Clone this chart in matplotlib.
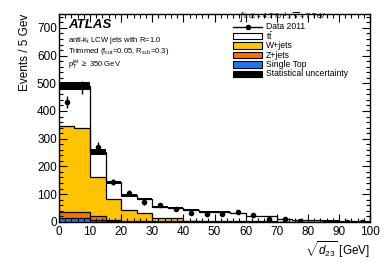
import numpy as np
import matplotlib
matplotlib.use("Agg")
import matplotlib.pyplot as plt
from matplotlib.patches import Rectangle
from matplotlib.lines import Line2D
from matplotlib.ticker import MultipleLocator

plt.rcParams['font.family'] = ['Liberation Sans', 'DejaVu Sans']
plt.rcParams['mathtext.fontset'] = 'custom'
plt.rcParams['mathtext.rm'] = 'Liberation Sans'
plt.rcParams['mathtext.it'] = 'Liberation Sans:italic'
plt.rcParams['mathtext.bf'] = 'Liberation Sans:bold'

# ---- data ----
bin_edges = np.arange(0, 105, 5)
single_top = [12, 15, 8, 2, 1, 1, 0.5, 0.5, 0.5, 0.3, 0.3, 0.3, 0.2, 0.2, 0.1, 0.1, 0.1, 0.1, 0.1, 0.1]
z_jets = [23, 21, 12, 6, 3, 2, 1.5, 1, 1, 0.5, 0.5, 0.5, 0.3, 0.3, 0.2, 0.2, 0.1, 0.1, 0.1, 0.1]
w_jets = [310, 304, 140, 76, 38, 29, 13, 11.5, 2.5, 2, 2, 1.5, 1.5, 0.7, 0.7, 0.5, 0.3, 0.3, 0.3, 0.3]
ttbar = [145, 150, 92, 58, 54, 50, 38, 37, 39, 33, 32, 28, 18, 19, 9, 6, 4.5, 3.5, 2.5, 1.5]
stat_unc = [14, 14, 10, 7, 5, 4, 3, 3, 3, 3, 3, 3, 2, 2, 1.5, 1.5, 1, 1, 1, 1]
data_2011 = [432, 485, 270, 144, 104, 70, 61, 45, 33, 27, 28, 34, 24, 10, 9, 2, np.nan, np.nan, 1, 1]

fig = plt.figure(figsize=(3.9, 2.65), dpi=100)
ax = fig.add_axes([0.151, 0.163, 0.798, 0.784])

st = np.array(single_top)
zj = st + np.array(z_jets)
wj = zj + np.array(w_jets)
tot = wj + np.array(ttbar)
unc = np.array(stat_unc)

lw = 0.9
ax.stairs(tot, bin_edges, baseline=wj, fill=True, facecolor='white', edgecolor='none')
ax.stairs(wj, bin_edges, baseline=zj, fill=True, facecolor='#ffc300', edgecolor='none')
ax.stairs(zj, bin_edges, baseline=st, fill=True, facecolor='#ff6e00', edgecolor='none')
ax.stairs(st, bin_edges, baseline=0, fill=True, facecolor='#1a78f2', edgecolor='none')
for arr in (tot, wj, zj, st):
    ax.stairs(arr, bin_edges, baseline=None, color='black', linewidth=lw)
ax.stairs(tot + unc, bin_edges, baseline=tot - unc, fill=True, facecolor='black',
          edgecolor='none', hatch='////')

centers = 0.5 * (bin_edges[1:] + bin_edges[:-1])
d = np.array(data_2011, dtype=float)
ax.errorbar(centers, d, yerr=np.sqrt(np.nan_to_num(d)), fmt='o', color='black',
            markersize=3, elinewidth=1, capsize=0, zorder=5)

ax.set_xlim(0, 100)
ax.set_ylim(0, 750)
ax.xaxis.set_major_locator(MultipleLocator(10))
ax.xaxis.set_minor_locator(MultipleLocator(2))
ax.yaxis.set_major_locator(MultipleLocator(100))
ax.yaxis.set_minor_locator(MultipleLocator(20))
ax.tick_params(which='both', direction='in', top=True, right=True, labelsize=8.5, width=0.8)
ax.tick_params(which='major', length=6)
ax.tick_params(which='minor', length=3)
ax.tick_params(axis='x', pad=3)
ax.tick_params(axis='y', pad=1.5)
for s in ax.spines.values():
    s.set_linewidth(1.0)

ax.set_ylabel('Events / 5 Gev', fontsize=8.5, loc='top')
ax.set_xlabel(r'$\sqrt{d_{23}}$ [GeV]', fontsize=8.5, loc='right', labelpad=1)

# ATLAS labels
ax.text(0.03, 0.945, 'ATLAS', transform=ax.transAxes, fontsize=9.5, fontweight='bold',
        fontstyle='italic', va='center')
ax.text(0.03, 0.875, r'anti-k$_{\rm t}$ LCW jets with R=1.0', transform=ax.transAxes,
        fontsize=5.5, va='center')
ax.text(0.03, 0.818, r'Trimmed (f$_{\rm cut}$=0.05, R$_{\rm sub}$=0.3)', transform=ax.transAxes,
        fontsize=5.5, va='center')
ax.text(0.03, 0.755, r'p$_{\rm T}^{\rm jet}$ $\geq$ 350 GeV', transform=ax.transAxes,
        fontsize=5.5, va='center')

# Legend (figure pixel coordinates)
W, H = 390.0, 265.0
def fx(px): return px / W
def fy(py): return 1 - py / H

fig.text(fx(238), fy(17), '\u222b', fontsize=7.5, va='center',
         family=['DejaVu Sans'])
fig.text(fx(243), fy(16.5), r'L dt = 4.7 fb$^{-1}$,$\sqrt{\rm s}$ = 7 TeV', fontsize=5, va='center')
entries = [('Data 2011', None), (r't$\bar{\rm t}$', 'white'), ('W+jets', '#ffc300'),
           ('Z+jets', '#ff6e00'), ('Single Top', '#1a78f2'), ('Statistical uncertainty', 'black')]
ys = [26.5, 36, 45.5, 55, 64.5, 74]
for (lab, col), yy in zip(entries, ys):
    if col is None:
        fig.add_artist(Line2D([fx(233), fx(262)], [fy(yy), fy(yy)], color='black', lw=1))
        fig.add_artist(Line2D([fx(247.5)], [fy(yy)], marker='o', color='black', markersize=3))
    else:
        fig.add_artist(Rectangle((fx(233), fy(yy + 3.2)), fx(29), 6.4 / H,
                                 facecolor=col, edgecolor='black', lw=0.8,
                                 transform=fig.transFigure,
                                 hatch='////' if col == 'black' else None))
    fig.text(fx(266), fy(yy), lab, fontsize=6.2, va='center')

fig.savefig('out.png', dpi=100)
